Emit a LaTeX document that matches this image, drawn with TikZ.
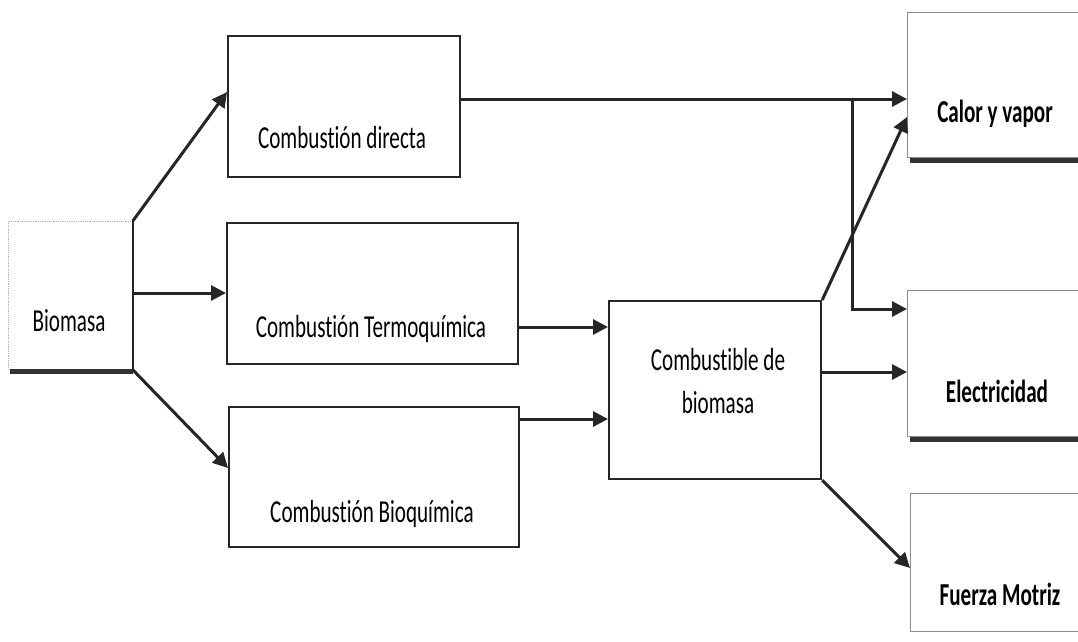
\documentclass[tikz,border=0pt]{standalone}
\usepackage{fontspec}
\setmainfont{Carlito}[FakeStretch=0.66, RawFeature={-liga;-clig;-calt;-dlig}]
\usetikzlibrary{arrows.meta}
\begin{document}
\begin{tikzpicture}[x=1pt,y=-1pt,
  box/.style={draw=black!85, line width=2.2pt, inner sep=0pt, anchor=north west},
  outbox/.style={draw=black!45, line width=0.8pt, inner sep=0pt, anchor=north west},
  srcbox/.style={draw=black!30, densely dotted, line width=0.8pt, inner sep=0pt, anchor=north west},
  shadow/.style={draw=black!80, line width=5pt},
  lbl/.style={inner sep=0pt, anchor=base, font=\fontsize{32}{43}\selectfont},
  blbl/.style={inner sep=0pt, anchor=base, font=\fontsize{32}{43}\selectfont\bfseries},
  arr/.style={draw=black!85, line width=3pt, -{Triangle[length=15pt,width=15pt]}},
  ln/.style={draw=black!85, line width=3pt}]
\useasboundingbox (0,0) rectangle (1078,641);
\clip (0,0) rectangle (1078,641);
% boxes
\node[srcbox, minimum width=124pt, minimum height=148pt] (bio) at (8,221) {};
\node[box, minimum width=232pt, minimum height=141pt] (cd) at (227,35) {};
\node[box, minimum width=291pt, minimum height=141pt] (ct) at (226,222) {};
\node[box, minimum width=290pt, minimum height=140pt] (cb) at (228,406) {};
\node[box, minimum width=212pt, minimum height=178pt] (cf) at (608,300) {};
\node[outbox, minimum width=180pt, minimum height=145pt] (cal) at (907,12) {};
\node[outbox, minimum width=180pt, minimum height=146pt] (ele) at (907,290) {};
\node[outbox, minimum width=180pt, minimum height=138pt] (fm) at (910,493) {};
% box accents
\draw[draw=black!85, line width=1.6pt] (bio.north east) -- (bio.south east);
\draw[shadow] ([xshift=2pt,yshift=-2pt]bio.south west) -- ([yshift=-2pt]bio.south east);
\draw[shadow] ([xshift=3pt,yshift=-3pt]cal.south west) -- ([yshift=-3pt]cal.south east);
\draw[shadow] ([xshift=3pt,yshift=-3pt]ele.south west) -- ([yshift=-3pt]ele.south east);
% labels
\node[lbl] (tbio) at (69,331) {Biomasa};
\node[lbl] (tcd) at (342,148) {Combustión directa};
\node[lbl] (tct) at (371,337) {Combustión Termoquímica};
\node[lbl] (tcb) at (372,522) {Combustión Bioquímica};
\node[lbl, align=center] (tcf) at (718,413) {Combustible de\\biomasa};
\node[blbl] (tcal) at (995,122) {Calor y vapor};
\node[blbl] (tele) at (997,402) {Electricidad};
\node[blbl] (tfm) at (1000,605) {Fuerza Motriz};
% level coordinates
\coordinate (j1) at (852,99);
\coordinate (j2) at (852,309);
\coordinate (yA) at (0,92);
\coordinate (yB) at (0,293);
\coordinate (yC) at (0,468);
\coordinate (yD) at (0,327);
\coordinate (yE) at (0,419);
\coordinate (yF) at (0,117);
\coordinate (yG) at (0,372);
\coordinate (yH) at (0,568);
% connectors
\draw[arr] (bio.north east) -- (cd.west |- yA);
\draw[arr] (bio.east |- yB) -- (ct.west |- yB);
\draw[arr] (bio.south east) -- (cb.west |- yC);
\draw[arr] (cd.east |- j1) -- (cal.west |- j1);
\draw[arr] (j1) -- (j2) -- (ele.west |- j2);
\draw[arr] (ct.east |- yD) -- (cf.west |- yD);
\draw[arr] (cb.east |- yE) -- (cf.west |- yE);
\draw[arr] (cf.north east) -- (cal.west |- yF);
\draw[arr] (cf.east |- yG) -- (ele.west |- yG);
\draw[arr] (cf.south east) -- (fm.west |- yH);
\end{tikzpicture}
\end{document}
